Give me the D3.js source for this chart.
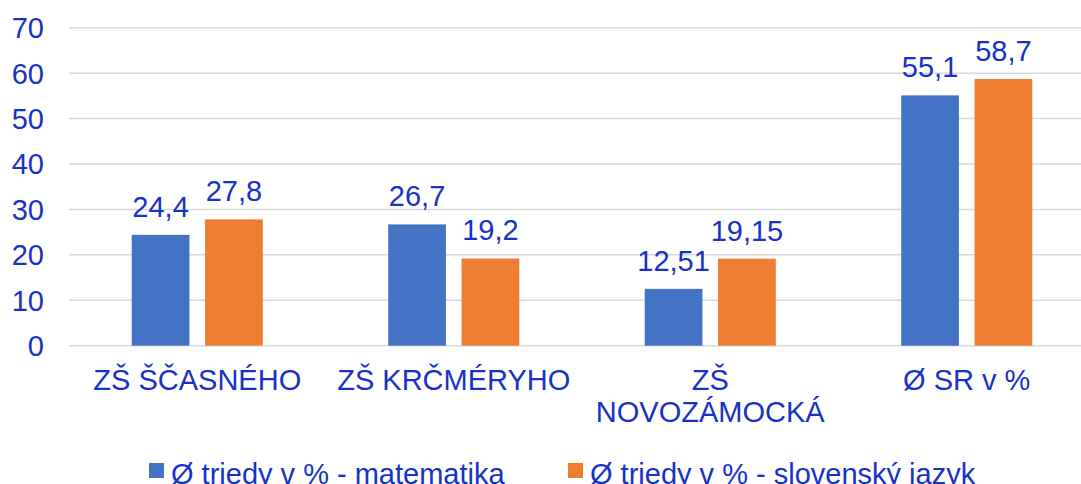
<!DOCTYPE html>
<html lang="sk">
<head>
<meta charset="utf-8">
<title>Priemer tried</title>
<script src="https://cdn.jsdelivr.net/npm/d3@7"></script>
<style>
  body { margin: 0; background: #fff; }
  svg { display: block; font-family: "Liberation Sans", Arial, sans-serif; }
  .lbl { fill: #1632c8; font-size: 29px; }
  .grid line { stroke: #d9d9d9; stroke-width: 1.5px; }
</style>
</head>
<body>
<div id="chart"></div>
<script>
// data
var categories = ["ZŠ ŠČASNÉHO", "ZŠ KRČMÉRYHO", "ZŠ NOVOZÁMOCKÁ", "Ø SR v %"];
var seriesNames = ["Ø triedy v % - matematika", "Ø triedy v % - slovenský jazyk"];
var matematika = [24.4, 26.7, 12.51, 55.1];
var slovencina = [27.8, 19.2, 19.15, 58.7];
var yTicks = [0, 10, 20, 30, 40, 50, 60, 70];
var colors = ["#4472c4", "#ed7d31"];

var width = 1081, height = 484;
var plot = {left: 69, right: 1095, top: 27.7, bottom: 345.7};

var svg = d3.select("#chart").append("svg")
  .attr("width", width)
  .attr("height", height);

var y = d3.scaleLinear().domain([0, 70]).range([plot.bottom, plot.top]);

var x0 = d3.scaleBand().domain(categories).range([plot.left, plot.right]).padding(0);
var x1 = d3.scaleBand().domain(seriesNames).range([0, x0.bandwidth()])
  .paddingInner(0.213).paddingOuter(0.855);

// gridlines
svg.append("g").attr("class", "grid")
  .selectAll("line").data(yTicks).enter().append("line")
  .attr("x1", plot.left).attr("x2", width)
  .attr("y1", function(d) { return y(d); })
  .attr("y2", function(d) { return y(d); });

// y tick labels
svg.append("g").selectAll("text").data(yTicks).enter().append("text")
  .attr("class", "lbl")
  .attr("x", 44)
  .attr("y", function(d) { return y(d); })
  .attr("dy", "0.36em")
  .attr("text-anchor", "end")
  .text(function(d) { return d; });

// rows for bars
var rows = categories.map(function(c, i) {
  return {cat: c, vals: [matematika[i], slovencina[i]]};
});

var groups = svg.append("g").selectAll("g").data(rows).enter().append("g")
  .attr("transform", function(d) { return "translate(" + x0(d.cat) + ",0)"; });

var cells = groups.selectAll("g").data(function(d) {
  return seriesNames.map(function(s, j) { return {s: s, v: d.vals[j], j: j}; });
}).enter().append("g");

cells.append("rect")
  .attr("x", function(d) { return x1(d.s); })
  .attr("width", x1.bandwidth())
  .attr("y", function(d) { return y(d.v); })
  .attr("height", function(d) { return y(0) - y(d.v); })
  .attr("fill", function(d) { return colors[d.j]; });

cells.append("text")
  .attr("class", "lbl")
  .attr("x", function(d) { return x1(d.s) + x1.bandwidth() / 2; })
  .attr("y", function(d) { return y(d.v) - 18; })
  .attr("text-anchor", "middle")
  .text(function(d) { return String(d.v).replace(".", ","); });

// category labels, wrapped if too wide
var catText = svg.append("g").selectAll("text").data(categories).enter().append("text")
  .attr("class", "lbl")
  .attr("text-anchor", "middle")
  .attr("x", function(d) { return x0(d) + x0.bandwidth() / 2; })
  .attr("y", 390);

catText.each(function(d) {
  var t = d3.select(this);
  var cx = x0(d) + x0.bandwidth() / 2;
  var words = d.split(" "), line = [], lineNo = 0;
  var ts = t.append("tspan").attr("x", cx);
  words.forEach(function(w) {
    line.push(w);
    ts.text(line.join(" "));
    if (ts.node().getComputedTextLength() > 250 && line.length > 1) {
      line.pop();
      ts.text(line.join(" "));
      line = [w];
      lineNo++;
      ts = t.append("tspan").attr("x", cx).attr("dy", 32).text(w);
    }
  });
});

// legend
var legendX = [149, 568];
var legend = svg.append("g").selectAll("g").data(seriesNames).enter().append("g")
  .attr("transform", function(d, i) { return "translate(" + legendX[i] + ",463)"; });

legend.append("rect")
  .attr("width", 15).attr("height", 15)
  .attr("fill", function(d, i) { return colors[i]; });

legend.append("text")
  .attr("class", "lbl")
  .attr("x", 22)
  .attr("y", 21)
  .text(function(d) { return d; });
</script>
</body>
</html>
